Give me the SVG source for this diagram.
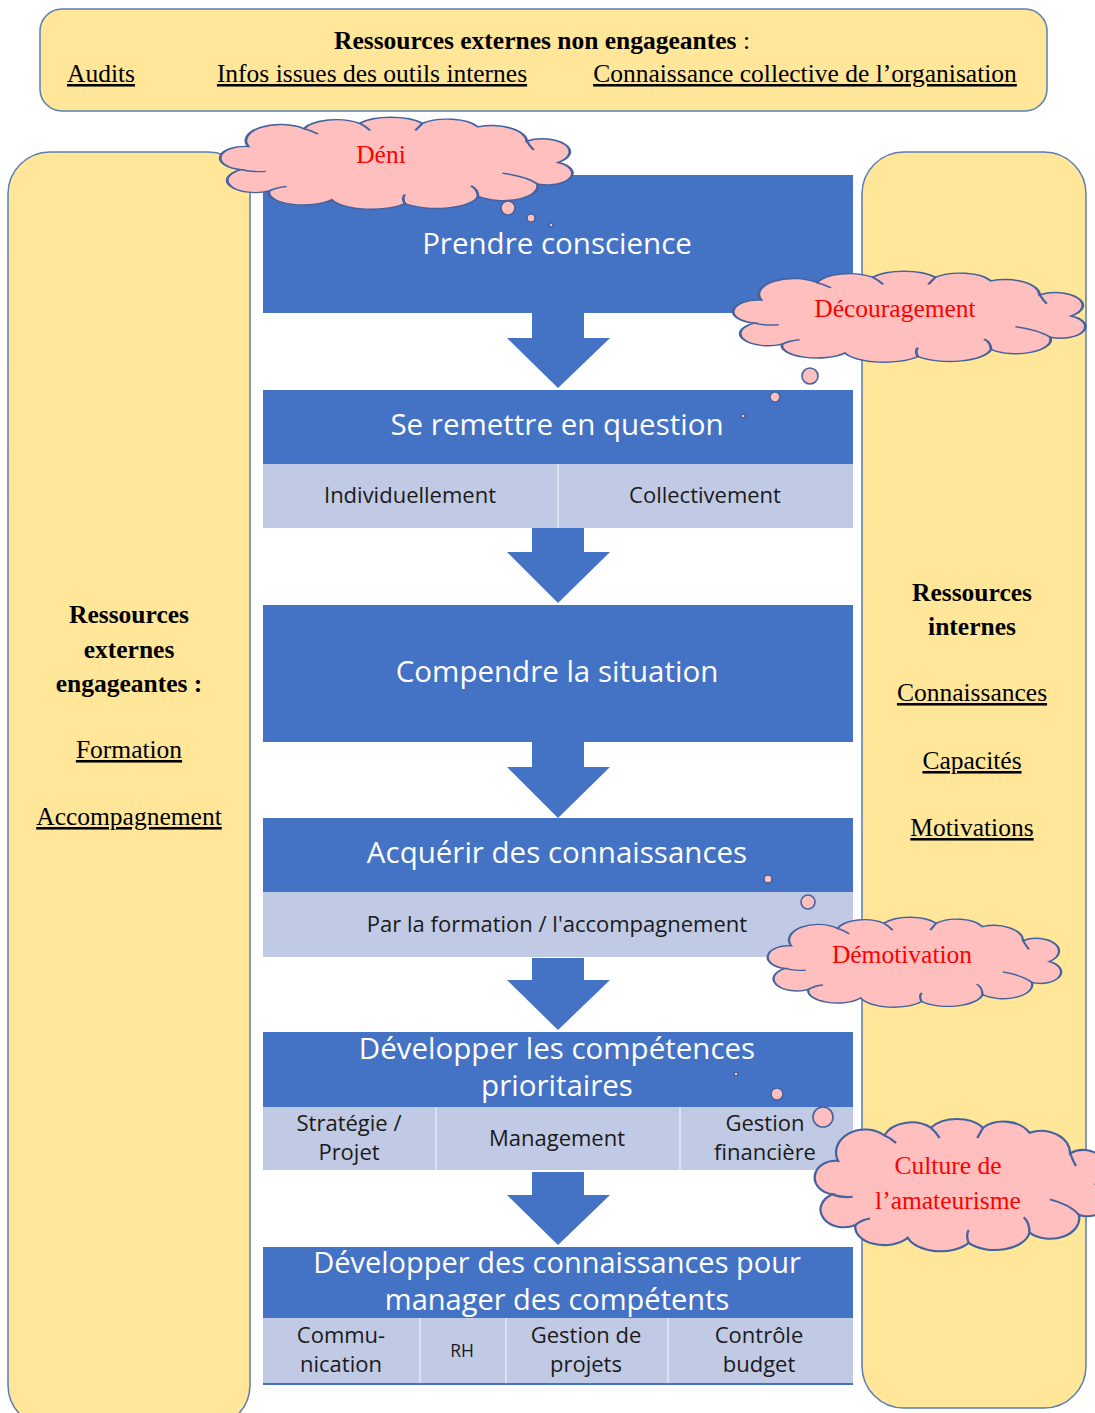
<svg xmlns="http://www.w3.org/2000/svg" width="1095" height="1413" viewBox="0 0 1095 1413">
<style>
.panel{fill:#FFE699;stroke:#5B7DB1;stroke-width:1.5}
.dark{fill:#4472C4}
.light{fill:#C1CAE4}
.div{stroke:#E4E8F3;stroke-width:1.5}
.arrow{fill:#4472C4}
.cloud{fill:#FFBFBF;stroke:#44639E;stroke-width:1.6}
.cl{fill:none;stroke:#44639E;stroke-width:1.6}
.ser{font-family:"Liberation Serif","Times New Roman",serif;font-size:25.5px;fill:#000;text-anchor:middle}
.b{font-weight:bold}
.u{text-decoration:underline}
.red{font-family:"Liberation Serif","Times New Roman",serif;font-size:25.5px;fill:#FF0000;text-anchor:middle}
.wt{font-family:"Open Sans","Noto Sans","Liberation Sans",sans-serif;font-size:29.5px;fill:#FFFFFF;text-anchor:middle}
.bt{font-family:"Open Sans","Noto Sans","Liberation Sans",sans-serif;font-size:22px;fill:#1A1A1A;text-anchor:middle}
</style>
<defs>
<path id="cloudShape" d="M 14,58 A 14,13 0 0 1 18,32 A 20,18 0 0 1 50,12 A 20,16 0 0 1 82,6 A 22,16 0 0 1 118,6 A 20,16 0 0 1 150,10 A 20,18 0 0 1 178,26 A 14,13 0 0 1 196,50 A 14,13 0 0 1 184,74 A 20,16 0 0 1 150,88 A 24,16 0 0 1 108,96 A 24,16 0 0 1 66,92 A 20,14 0 0 1 30,82 A 14,12 0 0 1 14,58 Z"/>
<path id="cloudLines" d="M 14,58 Q 20,61 28,60 M 30,82 Q 34,78 40,77 M 108,96 Q 106,90 108,86 M 150,88 Q 150,80 146,76 M 184,74 Q 178,66 164,62 M 178,26 Q 180,32 182,36 M 118,6 Q 116,10 114,14 M 82,6 Q 86,10 88,14 M 50,12 Q 54,14 58,18"/>
</defs>

<g id="banner">
<rect class="panel" x="40" y="9" width="1007" height="102" rx="22"/>
<text class="ser" x="542" y="49"><tspan class="b">Ressources externes non engageantes</tspan> :</text>
<text class="ser u" x="101" y="82">Audits</text>
<text class="ser u" x="372" y="82">Infos issues des outils internes</text>
<text class="ser u" x="805" y="82">Connaissance collective de l’organisation</text>
</g>

<g id="left-panel">
<rect class="panel" x="8" y="152" width="242" height="1275" rx="42"/>
<text class="ser b" x="129" y="623">Ressources</text>
<text class="ser b" x="129" y="658">externes</text>
<text class="ser b" x="129" y="692">engageantes :</text>
<text class="ser u" x="129" y="758">Formation</text>
<text class="ser u" x="129" y="825">Accompagnement</text>
</g>

<g id="right-panel">
<rect class="panel" x="862" y="152" width="224" height="1256" rx="42"/>
<text class="ser b" x="972" y="601">Ressources</text>
<text class="ser b" x="972" y="635">internes</text>
<text class="ser u" x="972" y="701">Connaissances</text>
<text class="ser u" x="972" y="769">Capacités</text>
<text class="ser u" x="972" y="836">Motivations</text>
</g>

<g id="connectors">
<polygon class="arrow" points="532,313 584,313 584,338 610,338 558,388 507,338 532,338"/>
<polygon class="arrow" points="532,528 584,528 584,552 610,552 558,603 507,552 532,552"/>
<polygon class="arrow" points="532,742 584,742 584,767 610,767 558,818 507,767 532,767"/>
<polygon class="arrow" points="532,958 584,958 584,980 610,980 558,1030 507,980 532,980"/>
<polygon class="arrow" points="532,1172 584,1172 584,1195 610,1195 558,1245 507,1195 532,1195"/>
</g>

<g id="step1">
<rect class="dark" x="263" y="175" width="590" height="138"/>
<text class="wt" x="557" y="254">Prendre conscience</text>
</g>

<g id="step2">
<rect class="dark" x="263" y="390" width="590" height="74"/>
<rect class="light" x="263" y="464" width="590" height="64"/>
<line class="div" x1="558" y1="464" x2="558" y2="528"/>
<text class="wt" x="557" y="435">Se remettre en question</text>
<text class="bt" x="410" y="503">Individuellement</text>
<text class="bt" x="705" y="503">Collectivement</text>
</g>

<g id="step3">
<rect class="dark" x="263" y="605" width="590" height="137"/>
<text class="wt" x="557" y="682">Compendre la situation</text>
</g>

<g id="step4">
<rect class="dark" x="263" y="818" width="590" height="74"/>
<rect class="light" x="263" y="892" width="590" height="65"/>
<text class="wt" x="557" y="863">Acquérir des connaissances</text>
<text class="bt" x="557" y="932">Par la formation / l'accompagnement</text>
</g>

<g id="step5">
<rect class="dark" x="263" y="1032" width="590" height="75"/>
<rect class="light" x="263" y="1107" width="590" height="63"/>
<line class="div" x1="436" y1="1107" x2="436" y2="1170"/>
<line class="div" x1="680" y1="1107" x2="680" y2="1170"/>
<text class="wt" x="557" y="1059">Développer les compétences</text>
<text class="wt" x="557" y="1096">prioritaires</text>
<text class="bt" x="349" y="1131">Stratégie /</text>
<text class="bt" x="349" y="1160">Projet</text>
<text class="bt" x="557" y="1146">Management</text>
<text class="bt" x="765" y="1131">Gestion</text>
<text class="bt" x="765" y="1160">financière</text>
</g>

<g id="step6">
<rect class="dark" x="263" y="1247" width="590" height="71"/>
<rect class="light" x="263" y="1318" width="590" height="66"/>
<line x1="263" y1="1384" x2="853" y2="1384" stroke="#4472C4" stroke-width="2"/>
<line class="div" x1="420" y1="1318" x2="420" y2="1383"/>
<line class="div" x1="506" y1="1318" x2="506" y2="1383"/>
<line class="div" x1="668" y1="1318" x2="668" y2="1383"/>
<text class="wt" x="557" y="1273" style="font-size:29px">Développer des connaissances pour</text>
<text class="wt" x="557" y="1310" style="font-size:29px">manager des compétents</text>
<text class="bt" x="341" y="1343">Commu-</text>
<text class="bt" x="341" y="1372">nication</text>
<text class="bt" x="462" y="1357" style="font-size:17.5px">RH</text>
<text class="bt" x="586" y="1343">Gestion de</text>
<text class="bt" x="586" y="1372">projets</text>
<text class="bt" x="759" y="1343">Contrôle</text>
<text class="bt" x="759" y="1372">budget</text>
</g>

<g id="cloud-deni">
<g transform="translate(217,118) scale(1.74,0.89)">
<use href="#cloudShape" class="cloud" vector-effect="non-scaling-stroke"/>
<use href="#cloudLines" class="cl" vector-effect="non-scaling-stroke"/>
</g>
<circle class="cloud" cx="508" cy="208" r="7"/>
<circle class="cloud" cx="531" cy="218" r="4"/>
<circle class="cloud" cx="551" cy="225" r="2"/>
<text class="red" x="381" y="163">Déni</text>
</g>

<g id="cloud-decouragement">
<g transform="translate(730,272) scale(1.74,0.88)">
<use href="#cloudShape" class="cloud" vector-effect="non-scaling-stroke"/>
<use href="#cloudLines" class="cl" vector-effect="non-scaling-stroke"/>
</g>
<circle class="cloud" cx="810" cy="376" r="8"/>
<circle class="cloud" cx="775" cy="397" r="5"/>
<circle class="cloud" cx="743" cy="416" r="2"/>
<text class="red" x="895" y="317">Découragement</text>
</g>

<g id="cloud-demotivation">
<g transform="translate(765,918) scale(1.45,0.87)">
<use href="#cloudShape" class="cloud" vector-effect="non-scaling-stroke"/>
<use href="#cloudLines" class="cl" vector-effect="non-scaling-stroke"/>
</g>
<circle class="cloud" cx="808" cy="902" r="7"/>
<circle class="cloud" cx="768" cy="879" r="4"/>
<circle class="cloud" cx="738" cy="858" r="1.5"/>
<text class="red" x="902" y="963">Démotivation</text>
</g>

<g id="cloud-culture">
<g transform="translate(812,1120) scale(1.45,1.28)">
<use href="#cloudShape" class="cloud" vector-effect="non-scaling-stroke"/>
<use href="#cloudLines" class="cl" vector-effect="non-scaling-stroke"/>
</g>
<circle class="cloud" cx="823" cy="1117" r="10"/>
<circle class="cloud" cx="777" cy="1094" r="6"/>
<circle class="cloud" cx="736" cy="1074" r="2"/>
<text class="red" x="948" y="1174">Culture de</text>
<text class="red" x="948" y="1209">l’amateurisme</text>
</g>
</svg>
